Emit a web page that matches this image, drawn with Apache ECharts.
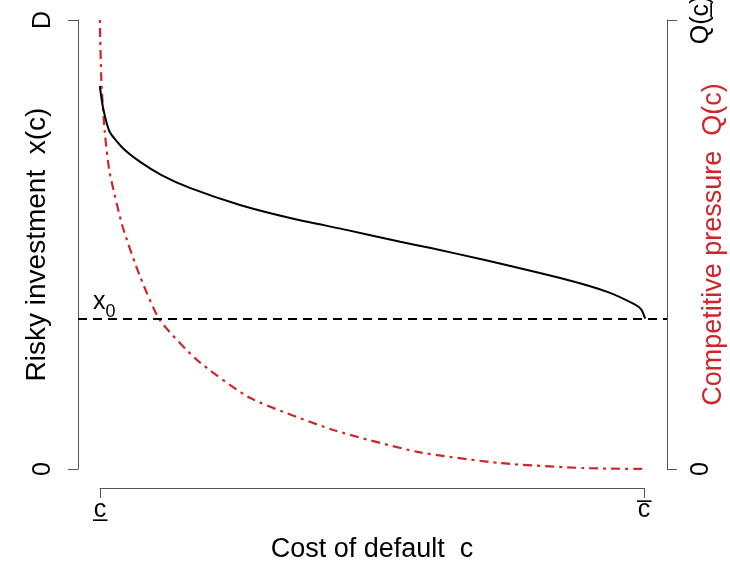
<!DOCTYPE html>
<html>
<head>
<meta charset="utf-8">
<script src="https://cdn.jsdelivr.net/npm/echarts@6/dist/echarts.min.js"></script>
<style>
html,body{margin:0;padding:0;background:#fff;}
#main{width:730px;height:566px;}
</style>
</head>
<body>
<div id="main"></div>
<script>
// ---- data ----
const costX = [0, 0.006, 0.018, 0.042, 0.074, 0.114, 0.165, 0.257, 0.349, 0.454, 0.551, 0.607, 0.704, 0.858, 0.932, 0.980, 0.993, 1.0];
const investment = [0.853, 0.804, 0.751, 0.715, 0.684, 0.654, 0.626, 0.588, 0.559, 0.532, 0.506, 0.492, 0.466, 0.421, 0.394, 0.367, 0.355, 0.335];
const costQ = [0, 0.003, 0.009, 0.018, 0.042, 0.074, 0.110, 0.178, 0.276, 0.428, 0.583, 0.735, 0.888, 1.0];
const pressure = [1.0, 0.86, 0.751, 0.661, 0.539, 0.428, 0.332, 0.243, 0.158, 0.087, 0.038, 0.013, 0.002, 0.0];
const x0 = 0.334;
const xTickLabels = ['c\u0332', 'c\u0305'];
const leftTickLabels = ['0', 'D'];
const rightTickLabels = ['0', 'Q(c\u0332)'];
const xTitle = 'Cost of default  c';
const leftTitle = 'Risky investment  x(c)';
const rightTitle = 'Competitive pressure  Q(c)';

const FONT = "'Liberation Sans', Arial, 'DejaVu Sans', sans-serif";
const RED = '#d0262b';
const AX = '#555';

const zip = (a, b) => a.map((v, i) => [v, b[i]]);

const chart = echarts.init(document.getElementById('main'), null, {renderer: 'canvas'});
chart.setOption({
  animation: false,
  backgroundColor: '#fff',
  textStyle: {fontFamily: FONT},
  grid: [
    {left: 78, right: 63, top: 20, bottom: 97, containLabel: false, outerBoundsMode: 'none'},
    {left: 100, right: 86, top: 20, bottom: 78, containLabel: false, outerBoundsMode: 'none'}
  ],
  xAxis: [
    {gridIndex: 0, type: 'value', min: -0.04, max: 1.04, show: false},
    {gridIndex: 1, type: 'value', min: 0, max: 1, interval: 1, position: 'bottom',
     axisLine: {show: true, onZero: false, lineStyle: {color: AX, width: 1}},
     axisTick: {show: true, length: 10, inside: false, lineStyle: {color: AX}},
     splitLine: {show: false},
     axisLabel: {show: true, margin: 10, fontSize: 25, color: '#000', fontFamily: FONT,
       formatter: v => xTickLabels[Math.round(v)]},
     name: xTitle, nameLocation: 'middle', nameGap: 48, nameMoveOverlap: false,
     nameTextStyle: {fontSize: 27, color: '#000', fontFamily: FONT}}
  ],
  yAxis: [
    {gridIndex: 0, type: 'value', min: 0, max: 1, interval: 1, position: 'left',
     axisLine: {show: true, onZero: false, lineStyle: {color: AX, width: 1}},
     axisTick: {show: true, length: 10, lineStyle: {color: AX}},
     splitLine: {show: false},
     axisLabel: {show: true, rotate: 90, margin: 22, fontSize: 25, color: '#000', fontFamily: FONT,
       formatter: v => leftTickLabels[Math.round(v)]},
     name: leftTitle, nameLocation: 'middle', nameGap: 27, nameRotate: 90, nameMoveOverlap: false,
     nameTextStyle: {fontSize: 28, color: '#000', fontFamily: FONT}},
    {gridIndex: 0, type: 'value', min: 0, max: 1, interval: 1, position: 'right',
     axisLine: {show: true, onZero: false, lineStyle: {color: AX, width: 1}},
     axisTick: {show: true, length: 10, lineStyle: {color: AX}},
     splitLine: {show: false},
     axisLabel: {show: true, rotate: 90, margin: 22, fontSize: 25, color: '#000', fontFamily: FONT,
       formatter: v => rightTickLabels[Math.round(v)]},
     name: rightTitle, nameLocation: 'middle', nameGap: 33, nameRotate: 90, nameMoveOverlap: false,
     nameTextStyle: {fontSize: 27, color: RED, fontFamily: FONT}},
    {gridIndex: 1, type: 'value', min: 0, max: 1, show: false}
  ],
  series: [
    {type: 'line', xAxisIndex: 0, yAxisIndex: 0, data: zip(costX, investment),
     showSymbol: false, smooth: 0.2, lineStyle: {color: '#000', width: 2}, z: 3},
    {type: 'line', xAxisIndex: 0, yAxisIndex: 0, data: zip(costQ, pressure),
     showSymbol: false, smooth: 0.2, lineStyle: {color: RED, width: 2.2, type: [3, 5, 9, 5]}, z: 2},
    {type: 'line', xAxisIndex: 0, yAxisIndex: 0, data: [[-0.04, x0], [1.04, x0]],
     showSymbol: false, lineStyle: {color: '#000', width: 2, type: [9, 6]}, z: 2},
    {type: 'scatter', xAxisIndex: 0, yAxisIndex: 0, data: [[0.008, x0]], symbolSize: 0, silent: true,
     itemStyle: {opacity: 1},
     label: {show: true, position: 'top', distance: 4, formatter: '{a|x}{b|0}', opacity: 1, color: '#000',
       rich: {a: {fontSize: 25, fontFamily: FONT, color: '#000'},
              b: {fontSize: 18, fontFamily: FONT, color: '#000', verticalAlign: 'bottom', padding: [0, 0, -6, 0]}}}}
  ]
});
</script>
</body>
</html>
